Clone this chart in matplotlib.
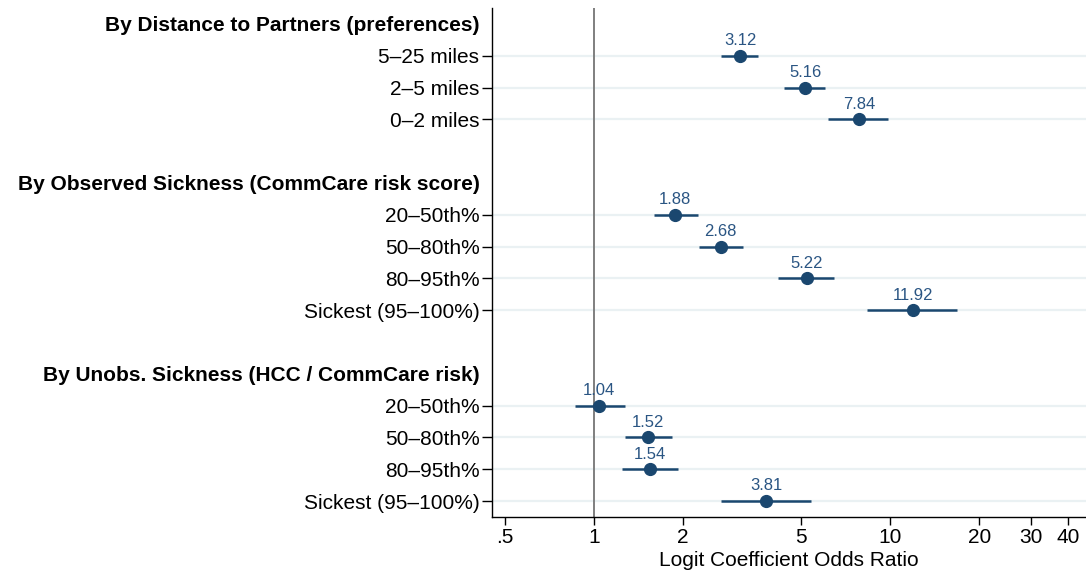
import numpy as np
import matplotlib.pyplot as plt
from matplotlib.ticker import FixedLocator, NullLocator

plt.rcParams['font.family'] = ['Liberation Sans', 'DejaVu Sans']

# группы коэффициентов (заголовок -> строки)
GROUPS = [
    "By Distance to Partners (preferences)",
    "By Observed Sickness (CommCare risk score)",
    "By Unobs. Sickness (HCC / CommCare risk)",
]
ROW_LABELS = [
    ["5\u201325 miles", "2\u20135 miles", "0\u20132 miles"],
    ["20\u201350th%", "50\u201380th%", "80\u201395th%", "Sickest (95\u2013100%)"],
    ["20\u201350th%", "50\u201380th%", "80\u201395th%", "Sickest (95\u2013100%)"],
]
# отношения шансов и 95% доверительные интервалы
ODDS = [
    [3.12, 5.16, 7.84],
    [1.88, 2.68, 5.22, 11.92],
    [1.04, 1.52, 1.54, 3.81],
]
CI_LO = [
    [2.69, 4.39, 6.18],
    [1.59, 2.27, 4.19, 8.38],
    [0.86, 1.27, 1.24, 2.68],
]
CI_HI = [
    [3.59, 6.05, 9.85],
    [2.24, 3.18, 6.46, 16.77],
    [1.27, 1.84, 1.92, 5.40],
]
X_TICKS = [0.5, 1, 2, 5, 10, 20, 30, 40]
X_TICK_LABELS = [".5", "1", "2", "5", "10", "20", "30", "40"]

NAVY = '#1a476f'

fig = plt.figure(figsize=(10.86, 5.76), dpi=100)
ax = fig.add_axes([0.453, 0.1024, 0.547, 0.8837])

# раскладка строк: заголовок, строки группы, пустая строка
tick_pos, tick_lab, is_header = [], [], []
rows_y, rows_x, rows_lo, rows_hi = [], [], [], []
pos = 1
for g, head in enumerate(GROUPS):
    tick_pos.append(pos)
    tick_lab.append(head)
    is_header.append(True)
    pos += 1
    for lab, v, lo, hi in zip(ROW_LABELS[g], ODDS[g], CI_LO[g], CI_HI[g]):
        tick_pos.append(pos)
        tick_lab.append(lab)
        is_header.append(False)
        rows_y.append(pos)
        rows_x.append(v)
        rows_lo.append(lo)
        rows_hi.append(hi)
        pos += 1
    pos += 1

# светлые горизонтальные линии сетки на строках коэффициентов
for y in rows_y:
    ax.axhline(y, color='#eaf1f3', lw=1.6, zorder=0)

ax.axvline(1, color='#7f7f7f', lw=1.4, zorder=1)

ax.hlines(rows_y, rows_lo, rows_hi, color=NAVY, lw=1.8, zorder=2)
ax.plot(rows_x, rows_y, 'o', color=NAVY, markersize=8.5, zorder=3)
for x, y in zip(rows_x, rows_y):
    ax.annotate(f"{x:.2f}", (x, y), xytext=(0, 5.5), textcoords='offset points',
                ha='center', va='bottom', fontsize=12, color='#2a5583')

ax.set_xscale('log')
ax.set_xlim(0.452, 45.9)
ax.set_ylim(pos - 1 + 0.5 - 1, 0.5)
ax.xaxis.set_major_locator(FixedLocator(X_TICKS))
ax.xaxis.set_minor_locator(NullLocator())
ax.set_xticklabels(X_TICK_LABELS)
ax.set_yticks(tick_pos)
ax.set_yticklabels(tick_lab)
ax.tick_params(axis='both', labelsize=15, direction='out', width=1, colors='black')
ax.tick_params(axis='y', length=7, pad=2)
ax.tick_params(axis='x', length=6, pad=2)

for tick, head in zip(ax.yaxis.get_major_ticks(), is_header):
    if head:
        tick.tick1line.set_visible(False)
        tick.label1.set_fontweight('bold')

for side in ['top', 'right']:
    ax.spines[side].set_visible(False)
ax.spines['left'].set_linewidth(1)
ax.spines['bottom'].set_linewidth(1)

ax.set_xlabel("Logit Coefficient Odds Ratio", fontsize=15, labelpad=3)

fig.savefig('out.png', dpi=100)
